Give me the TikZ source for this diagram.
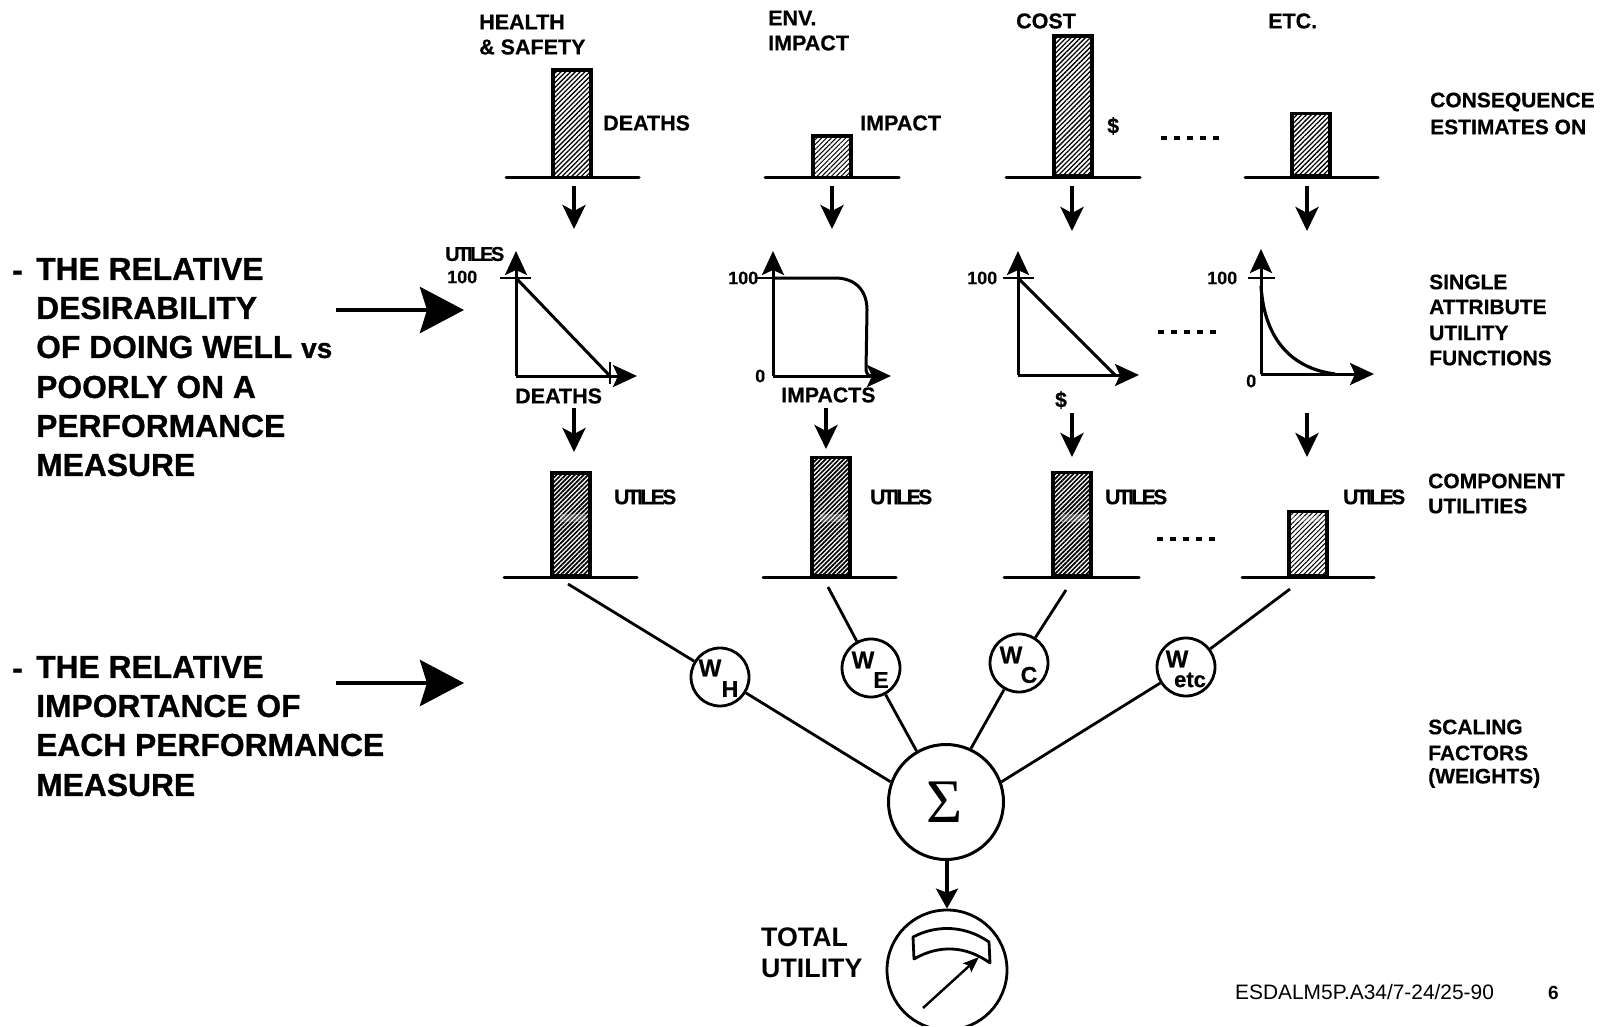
\documentclass[tikz,border=0pt]{standalone}
\usepackage{fontspec}
\setmainfont{Liberation Sans}
\newfontfamily\sigmafont{Liberation Serif}
\newfontface\tightbold[LetterSpace=-12,FakeBold=0.5]{Liberation Sans Bold}
\newfontface\heavy[FakeBold=0.8]{Liberation Sans Bold}
\newfontface\medheavy[FakeBold=0.5]{Liberation Sans Bold}
\usetikzlibrary{arrows.meta,patterns.meta}
\tikzset{
  lab/.style={font=\medheavy\fontsize{21}{21}\selectfont,inner sep=0pt,anchor=west},
  labm/.style={font=\medheavy\fontsize{21.5}{21.5}\selectfont,inner sep=0pt,anchor=west},
  num/.style={font=\medheavy\fontsize{18}{18}\selectfont,inner sep=0pt,anchor=west},
  utl/.style={font=\tightbold\fontsize{21}{21}\selectfont,inner sep=0pt,anchor=west},
  side/.style={font=\heavy\fontsize{31.8}{31.8}\selectfont,inner sep=0pt,anchor=west},
  total/.style={font=\bfseries\fontsize{26.8}{26.8}\selectfont,inner sep=0pt,anchor=west},
  wlab/.style={font=\medheavy\fontsize{24}{24}\selectfont,inner sep=0pt},
  wsub/.style={font=\medheavy\fontsize{23}{23}\selectfont,inner sep=0pt},
  hbar/.style={draw,line width=3.5pt,inner sep=0pt,minimum width=38pt,anchor=south,
    pattern={Lines[angle=45,distance=3.4pt,line width=1.3pt]}},
  dbar/.style={draw,line width=3.5pt,inner sep=0pt,minimum width=38pt,anchor=south,
    pattern={Lines[angle=45,distance=3.2pt,line width=1.7pt]}},
  lbar/.style={draw,line width=3.5pt,inner sep=0pt,minimum width=38pt,anchor=south,
    pattern={Lines[angle=45,distance=3.4pt,line width=1pt]}},
  glare/.style={fill=white,opacity=.28},
  base/.style={line width=3pt,line cap=round},
  down/.style={line width=3.8pt,-{Stealth[length=24pt,width=23pt,inset=6pt]}},
  axis/.style={line width=3pt,-{Stealth[length=24pt,width=22pt,inset=5pt]}},
  bigarrow/.style={line width=4.5pt,-{Stealth[length=44pt,width=46pt,inset=7pt]}},
  curve/.style={line width=3pt},
  tick/.style={line width=2pt},
  dots/.style={line width=3.6pt,dash pattern=on 6pt off 7pt},
  wcirc/.style={draw,circle,line width=2.8pt,minimum size=58pt,inner sep=0pt},
  link/.style={line width=2.8pt},
}
\begin{document}
\begin{tikzpicture}[x=1pt,y=-1pt]
\useasboundingbox (0,0) rectangle (1606,1027);

% column headers
\node[labm] (h1a) at (479,22) {HEALTH};
\node[labm] (h1b) at (479,47) {\& SAFETY};
\node[labm] (h2a) at (768,18) {ENV.};
\node[labm] (h2b) at (768,43) {IMPACT};
\node[labm] (h3) at (1016,21) {COST};
\node[labm] (h4) at (1268,21) {ETC.};

% consequence bars
\node[hbar,minimum height=107.5pt] (b1) at (572,178) {};
\node[lbar,minimum height=41.5pt] (b2) at (832,178) {};
\node[hbar,minimum height=140pt] (b3) at (1073,178) {};
\node[hbar,minimum height=62.5pt] (b4) at (1311,178) {};
\coordinate (bl1a) at (506,178); \coordinate (bl1b) at (639,178);
\coordinate (bl2a) at (765,178); \coordinate (bl2b) at (899,178);
\coordinate (bl3a) at (1006,178); \coordinate (bl3b) at (1140,178);
\coordinate (bl4a) at (1245,178); \coordinate (bl4b) at (1378,178);
\draw[base] (bl1a) -- (bl1b);
\draw[base] (bl2a) -- (bl2b);
\draw[base] (bl3a) -- (bl3b);
\draw[base] (bl4a) -- (bl4b);
\node[labm] (c1) at (603,123) {DEATHS};
\node[labm] (c2) at (860,123) {IMPACT};
\node[labm] (c3) at (1107,126) {\$};
\coordinate (d1a) at (1161,138); \coordinate (d1b) at (1219,138);
\draw[dots] (d1a) -- (d1b);

% arrows, row one
\coordinate (a1s) at (574,186); \coordinate (a1e) at (574,229);
\coordinate (a2s) at (832,186); \coordinate (a2e) at (832,229);
\coordinate (a3s) at (1072,186); \coordinate (a3e) at (1072,231);
\coordinate (a4s) at (1307,186); \coordinate (a4e) at (1307,231);
\draw[down] (a1s) -- (a1e);
\draw[down] (a2s) -- (a2e);
\draw[down] (a3s) -- (a3e);
\draw[down] (a4s) -- (a4e);

% chart one
\coordinate (o1) at (516,376);
\coordinate (t1) at (516,251);
\coordinate (r1) at (637,376);
\coordinate (p1) at (516,278);
\coordinate (q1) at (610,376);
\draw[axis] (o1) -- (t1);
\draw[axis] (o1) -- (r1);
\draw[curve] (p1) -- (q1);
\coordinate (tk1a) at (500,278); \coordinate (tk1b) at (531,278);
\draw[tick] (tk1a) -- (tk1b);
\coordinate (tk1c) at (610,362); \coordinate (tk1d) at (610,384);
\draw[tick] (tk1c) -- (tk1d);
\node[num,font=\tightbold\fontsize{20}{20}\selectfont] (u1) at (445,254) {UTILES};
\node[num] (n1) at (447,277) {100};
\node[labm] (x1) at (515,396) {DEATHS};

% chart two
\coordinate (o2) at (773,376);
\coordinate (t2) at (773,251);
\coordinate (r2) at (891,376);
\draw[axis] (o2) -- (t2);
\draw[axis] (o2) -- (r2);
\coordinate (p2a) at (773,278);
\coordinate (p2b) at (866,370);
\draw[curve] (p2a) -- (835,278) .. controls (855,278) and (867,290) .. (867,310) -- (p2b) .. controls (867,374) and (868,376) .. (872,376);
\coordinate (tk2a) at (757,278);
\draw[tick] (tk2a) -- (p2a);
\node[num] (n2) at (728,278) {100};
\node[num] (z2) at (755,376) {0};
\node[labm,font=\medheavy\fontsize{21.3}{21.3}\selectfont] (x2) at (781,395) {IMPACTS};

% chart three
\coordinate (o3) at (1018,375);
\coordinate (t3) at (1018,251);
\coordinate (r3) at (1139,375);
\coordinate (p3) at (1018,278);
\coordinate (q3) at (1115,375);
\draw[axis] (o3) -- (t3);
\draw[axis] (o3) -- (r3);
\draw[curve] (p3) -- (q3);
\coordinate (tk3a) at (1003,278); \coordinate (tk3b) at (1034,278);
\draw[tick] (tk3a) -- (tk3b);
\node[num] (n3) at (967,278) {100};
\node[labm,anchor=center] (x3) at (1061,400) {\$};
\coordinate (d2a) at (1158,332); \coordinate (d2b) at (1217,332);
\draw[dots] (d2a) -- (d2b);

% chart four
\coordinate (o4) at (1261,374);
\coordinate (t4) at (1261,249);
\coordinate (r4) at (1374,374);
\coordinate (p4) at (1261,286);
\coordinate (q4) at (1335,374);
\draw[axis] (o4) -- (t4);
\draw[axis] (o4) -- (r4);
\draw[curve,line width=3.2pt] (p4) .. controls (1264,335) and (1288,368) .. (q4);
\coordinate (tk4a) at (1248,278); \coordinate (tk4b) at (1275,278);
\draw[tick] (tk4a) -- (tk4b);
\node[num] (n4) at (1207,278) {100};
\node[num] (z4) at (1246,381) {0};

% arrows, row two
\coordinate (e1s) at (574,408); \coordinate (e1e) at (574,452);
\coordinate (e2s) at (826,408); \coordinate (e2e) at (826,449);
\coordinate (e3s) at (1072,413); \coordinate (e3e) at (1072,457);
\coordinate (e4s) at (1307,413); \coordinate (e4e) at (1307,457);
\draw[down] (e1s) -- (e1e);
\draw[down] (e2s) -- (e2e);
\draw[down] (e3s) -- (e3e);
\draw[down] (e4s) -- (e4e);

% component utility bars
\node[dbar,minimum height=103pt] (m1) at (571,577) {};
\node[dbar,minimum height=118pt] (m2) at (831,577) {};
\node[dbar,minimum height=103pt] (m3) at (1072,577) {};
\node[lbar,minimum height=64pt] (m4) at (1308,577) {};
\fill[glare] (560,514) rectangle (586,522);
\fill[glare] (820,514) rectangle (846,522);
\fill[glare] (1061,514) rectangle (1087,522);
\fill[glare] (1291,516) rectangle (1325,522);
\coordinate (ml1a) at (504,577); \coordinate (ml1b) at (637,577);
\coordinate (ml2a) at (763,577); \coordinate (ml2b) at (896,577);
\coordinate (ml3a) at (1004,577); \coordinate (ml3b) at (1139,577);
\coordinate (ml4a) at (1242,577); \coordinate (ml4b) at (1374,577);
\draw[base] (ml1a) -- (ml1b);
\draw[base] (ml2a) -- (ml2b);
\draw[base] (ml3a) -- (ml3b);
\draw[base] (ml4a) -- (ml4b);
\node[utl] (v1) at (614,497) {UTILES};
\node[utl] (v2) at (870,497) {UTILES};
\node[utl] (v3) at (1105,497) {UTILES};
\node[utl] (v4) at (1343,497) {UTILES};
\coordinate (d3a) at (1157,539); \coordinate (d3b) at (1216,539);
\draw[dots] (d3a) -- (d3b);

% weights and sum
\node[wcirc] (wh) at (720,677) {};
\node[wcirc] (we) at (871,668) {};
\node[wcirc] (wc) at (1019,663) {};
\node[wcirc] (we2) at (1186,667) {};
\node[draw,circle,line width=3pt,minimum size=115pt,inner sep=0pt,
      font=\sigmafont\fontsize{62}{62}\selectfont] (sum) at (946,802) {\hspace*{-3pt}Σ};
\node[wlab] (whw) at (710,668) {W};
\node[wsub] (whs) at (730,689) {H};
\node[wlab] (wew) at (863,660) {W};
\node[wsub] (wes) at (881,680) {E};
\node[wlab] (wcw) at (1011,655) {W};
\node[wsub] (wcs) at (1029,675) {C};
\node[wlab] (wxw) at (1177,659) {W};
\node[wsub,font=\medheavy\fontsize{22}{22}\selectfont] (wxs) at (1190,680) {etc};
\coordinate (s1) at (568,584);
\coordinate (s2) at (828,587);
\coordinate (s3) at (1066,590);
\coordinate (s4) at (1290,589);
\draw[link] (s1) -- (wh);
\draw[link] (s2) -- (we);
\draw[link] (s3) -- (wc);
\draw[link] (s4) -- (we2);
\draw[link] (wh) -- (sum.160);
\draw[link] (we) -- (sum.120);
\draw[link] (wc) -- (sum.65);
\draw[link] (we2) -- (sum.20);

% meter
\begin{scope}
\clip (800,850) rectangle (1100,1025);
\node[draw,circle,line width=2.8pt,minimum size=120pt,inner sep=0pt] (meter) at (947,970) {};
\end{scope}
\draw[line width=3.2pt,-{Stealth[length=20pt,width=22pt,inset=4pt]}] (sum.south -| meter.north) -- (meter.north);
\draw[line width=2.8pt,line join=round] (913,937) .. controls (938,924) and (966,926) .. (989,942)
  -- (990,963) .. controls (965,945) and (938,945) .. (914,959) -- cycle;
\coordinate (na) at (923,1008); \coordinate (nb) at (979,957);
\draw[line width=2.4pt,-{Stealth[length=16pt,width=12pt,inset=3pt]}] (na) -- (nb);
\node[total] (to1) at (761,937) {TOTAL};
\node[total] (to2) at (761,968) {UTILITY};

% right column
\node[lab] (r1a) at (1430,102) {CONSEQUENCE};
\node[lab] (r1b) at (1430,127) {ESTIMATES ON};
\node[lab] (r2a) at (1429,282) {SINGLE};
\node[lab] (r2b) at (1429,307) {ATTRIBUTE};
\node[lab] (r2c) at (1429,333) {UTILITY};
\node[lab] (r2d) at (1429,358) {FUNCTIONS};
\node[lab] (r3a) at (1428,481) {COMPONENT};
\node[lab] (r3b) at (1428,506) {UTILITIES};
\node[lab] (r4a) at (1428,727) {SCALING};
\node[lab] (r4b) at (1428,753) {FACTORS};
\node[lab] (r4c) at (1428,778) {(WEIGHTS)};

% left column
\node[side] (ld1) at (12,270) {\vphantom{T}-};
\node[side] (l1) at (36,269) {THE RELATIVE};
\node[side] (l2) at (36,308) {DESIRABILITY};
\node[side] (l3) at (36,347) {OF DOING WELL {\fontsize{28}{28}\selectfont vs}};
\node[side] (l4) at (36,387) {POORLY ON A};
\node[side] (l5) at (36,426) {PERFORMANCE};
\node[side] (l6) at (36,465) {MEASURE};
\node[side] (ld2) at (12,668) {\vphantom{T}-};
\node[side] (k1) at (36,667) {THE RELATIVE};
\node[side] (k2) at (36,706) {IMPORTANCE OF};
\node[side] (k3) at (36,745) {EACH PERFORMANCE};
\node[side] (k4) at (36,785) {MEASURE};
\coordinate (la1) at (336,310); \coordinate (la2) at (464,310);
\coordinate (lb1) at (336,683); \coordinate (lb2) at (464,683);
\draw[bigarrow] (la1) -- (la2);
\draw[bigarrow] (lb1) -- (lb2);

% footer
\node[inner sep=0pt,anchor=west,font=\fontsize{20.9}{20.9}\selectfont] (ft) at (1235,992) {ESDALM5P.A34/7-24/25-90};
\node[inner sep=0pt,anchor=west,font=\bfseries\fontsize{19}{19}\selectfont] (pg) at (1548,993) {6};
\end{tikzpicture}
\end{document}
